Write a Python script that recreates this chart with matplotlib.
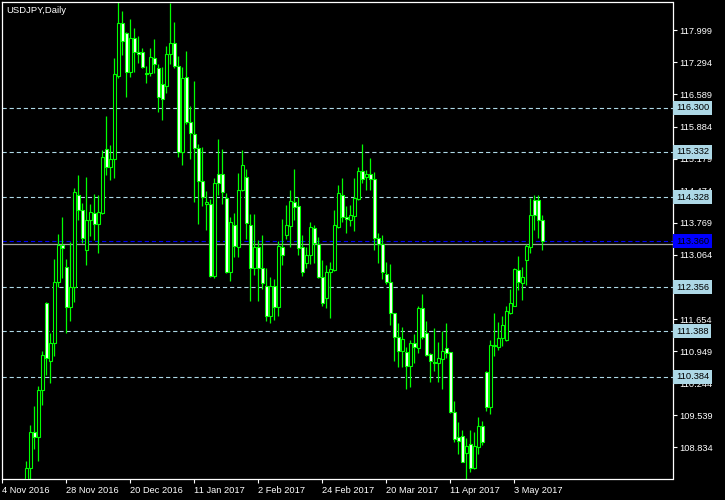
import matplotlib
matplotlib.use("Agg")
import matplotlib.pyplot as plt

plt.rcParams['font.family'] = ['Liberation Sans', 'DejaVu Sans']

# USDJPY daily bars, 4 Nov 2016 .. 12 May 2017 (one entry per weekday)
opens = [103.10, 103.10, 104.40, 105.10, 105.70, 106.80, 106.60, 108.39, 109.16, 109.05,
         110.09, 112.00, 110.72, 111.12, 112.47, 113.27, 112.79, 111.91, 112.36, 114.39,
         114.04, 113.18, 113.82, 113.98, 113.74, 113.99, 115.38, 115.00, 115.16, 117.00,
         118.17, 117.95, 117.09, 117.82, 117.53, 117.52, 117.06, 117.05, 117.38, 117.16,
         116.81, 116.78, 117.47, 117.71, 117.21, 115.32, 116.98, 115.99, 115.73, 115.41,
         114.69, 114.18, 114.18, 112.61, 114.83, 114.83, 114.32, 112.68, 113.73, 113.23,
         114.50, 114.77, 113.73, 112.77, 113.23, 112.77, 112.37, 111.72, 112.37, 111.91,
         113.23, 113.50, 113.70, 114.22, 114.14, 113.23, 112.88, 113.06, 113.65, 113.30,
         112.57, 112.11, 112.68, 112.72, 113.68, 114.39, 113.89, 113.84, 113.92, 114.29,
         114.91, 114.77, 114.83, 114.72, 113.44, 113.30, 112.64, 112.47, 111.78, 111.25,
         110.96, 110.92, 110.63, 111.12, 111.01, 111.89, 111.34, 110.89, 110.70, 110.68,
         110.77, 111.01, 110.92, 109.60, 109.07, 109.09, 108.72, 108.90, 108.39, 108.83,
         109.30, 110.50, 109.73, 111.06, 111.03, 111.23, 111.19, 111.79, 111.95, 112.73,
         112.44, 112.94, 113.24, 114.27, 114.27, 113.84]
highs = [103.50, 104.50, 105.50, 105.90, 106.90, 106.90, 108.53, 109.32, 109.74, 110.18,
         110.95, 112.02, 111.34, 112.97, 113.52, 113.89, 112.97, 113.34, 114.53, 114.82,
         114.20, 114.77, 114.18, 114.40, 114.38, 115.37, 116.12, 115.48, 117.38, 118.66,
         118.42, 117.96, 118.25, 118.06, 117.87, 117.60, 117.21, 117.60, 117.80, 117.26,
         117.19, 117.65, 118.60, 118.18, 117.43, 117.19, 117.54, 116.34, 116.89, 115.50,
         115.44, 114.47, 114.29, 114.75, 115.62, 115.38, 114.42, 113.89, 113.98, 114.86,
         115.37, 114.95, 113.96, 113.96, 113.38, 113.49, 112.78, 112.57, 112.53, 113.37,
         113.85, 114.16, 114.49, 114.95, 114.33, 113.50, 113.23, 113.78, 113.72, 113.45,
         112.95, 112.84, 112.90, 114.05, 114.60, 114.75, 114.14, 114.16, 114.75, 114.99,
         115.50, 114.93, 115.19, 114.89, 113.54, 113.50, 112.90, 112.86, 111.78, 111.56,
         111.47, 111.04, 111.19, 111.32, 111.94, 112.20, 111.60, 110.91, 111.45, 111.14,
         111.38, 111.56, 110.92, 109.85, 109.38, 109.22, 109.03, 109.21, 109.18, 109.49,
         109.41, 110.51, 111.19, 111.78, 111.58, 111.73, 111.93, 112.31, 112.78, 113.04,
         112.79, 113.30, 114.32, 114.38, 114.38, 113.95]
lows = [102.90, 103.00, 104.20, 101.20, 105.20, 106.10, 106.30, 107.90, 108.79, 108.54,
        109.76, 110.42, 110.25, 110.83, 112.35, 112.55, 111.34, 111.60, 112.03, 113.82,
        113.32, 112.84, 113.48, 113.40, 113.11, 113.97, 114.82, 114.71, 114.75, 116.95,
        117.46, 116.54, 116.98, 117.09, 117.27, 117.16, 116.85, 116.99, 117.05, 116.21,
        116.03, 116.63, 117.25, 117.16, 115.21, 115.04, 115.94, 115.16, 114.23, 113.74,
        114.14, 113.60, 112.57, 112.56, 114.38, 114.18, 112.67, 112.50, 113.02, 113.02,
        114.47, 113.41, 112.06, 112.62, 112.04, 112.31, 111.60, 111.57, 111.63, 111.72,
        112.84, 113.41, 113.24, 113.83, 113.06, 112.60, 112.78, 112.86, 112.89, 112.55,
        111.93, 111.90, 111.67, 112.70, 113.66, 113.79, 113.55, 113.70, 113.59, 114.27,
        114.65, 114.49, 114.49, 113.16, 112.88, 112.53, 112.42, 111.52, 110.72, 110.61,
        110.61, 110.11, 110.17, 110.69, 110.91, 111.21, 110.83, 110.26, 110.52, 110.28,
        110.11, 110.79, 109.58, 108.94, 108.69, 108.52, 108.14, 108.30, 108.36, 108.69,
        108.89, 109.64, 109.57, 110.85, 110.97, 111.05, 111.18, 111.76, 111.94, 112.29,
        112.07, 112.40, 113.11, 113.61, 113.44, 113.17]
closes = [103.10, 104.40, 105.10, 105.70, 106.80, 106.60, 108.39, 109.16, 109.05, 110.09,
          110.86, 110.79, 111.12, 112.46, 113.29, 113.21, 111.91, 112.36, 114.44, 114.04,
          113.43, 113.84, 114.00, 113.74, 114.01, 115.21, 115.00, 115.16, 117.04, 118.15,
          117.77, 117.08, 117.84, 117.53, 117.48, 117.20, 117.03, 117.41, 117.26, 116.54,
          116.50, 117.47, 117.73, 117.21, 115.33, 116.94, 115.99, 115.75, 115.41, 114.69,
          114.33, 114.23, 112.61, 114.64, 114.64, 114.45, 112.68, 113.78, 113.26, 114.50,
          115.04, 113.76, 112.78, 113.23, 112.77, 112.44, 111.72, 112.37, 111.91, 113.26,
          113.05, 113.72, 114.25, 114.12, 113.21, 112.69, 113.05, 113.67, 113.32, 112.58,
          112.00, 112.68, 112.75, 113.71, 114.42, 113.89, 113.85, 113.95, 114.31, 114.91,
          114.72, 114.84, 114.73, 113.44, 113.30, 112.69, 112.47, 111.78, 111.25, 110.96,
          111.21, 110.63, 111.12, 111.03, 111.89, 111.25, 110.86, 110.72, 110.68, 110.79,
          110.96, 110.91, 109.60, 109.01, 108.98, 108.52, 108.87, 108.39, 108.86, 109.30,
          108.96, 109.73, 111.08, 111.08, 111.23, 111.52, 111.82, 112.00, 112.75, 112.46,
          112.58, 113.26, 113.95, 113.95, 113.84, 113.36]

date_labels = ['4 Nov 2016', '28 Nov 2016', '20 Dec 2016', '11 Jan 2017', '2 Feb 2017',
               '24 Feb 2017', '20 Mar 2017', '11 Apr 2017', '3 May 2017']
price_ticks = [117.999, 117.294, 116.589, 115.884, 115.179, 114.474, 113.769, 113.064,
               112.359, 111.654, 110.949, 110.244, 109.539, 108.834]
levels = [116.300, 115.332, 114.328, 112.356, 111.388, 110.384]
current_price = 113.360
bid_line = 113.30

GREEN = '#00ff00'
LEVEL = '#add8e6'

fig = plt.figure(figsize=(7.25, 5.0), dpi=100, facecolor='black')
ax = fig.add_axes([2 / 725, 20.7 / 500, 670.5 / 725, 477.3 / 500])
ax.set_facecolor('black')

xs = list(range(len(opens)))

# wicks then bodies
ax.vlines(xs, lows, highs, colors=GREEN, linewidth=0.9, zorder=2)
bottoms = [min(o, c) for o, c in zip(opens, closes)]
heights = [max(abs(c - o), 0.005) for o, c in zip(opens, closes)]
fills = ['white' if c < o else 'black' for o, c in zip(opens, closes)]
ax.bar(xs, heights, bottom=bottoms, width=0.6, color=fills, edgecolor=GREEN,
       linewidth=0.8, zorder=3)

# horizontal levels
for lv in levels:
    ax.axhline(lv, color=LEVEL, linewidth=0.8, dashes=(3.8, 2.6), zorder=1)
    ax.annotate(f"{lv:.3f}", xy=(1, lv), xycoords=ax.get_yaxis_transform(),
                xytext=(3.5, 0), textcoords='offset pixels', va='center', ha='left',
                fontsize=6.7, color='black', annotation_clip=False, zorder=6,
                bbox=dict(boxstyle='square,pad=0.28', fc=LEVEL, ec='none'))

ax.axhline(bid_line, color='#a0a0a0', linewidth=0.9, zorder=1)
ax.axhline(current_price, color='#0000ff', linewidth=0.8, dashes=(3.8, 2.6), zorder=1)
ax.annotate(f"{current_price:.3f}", xy=(1, current_price), xycoords=ax.get_yaxis_transform(),
            xytext=(3.5, 0), textcoords='offset pixels', va='center', ha='left',
            fontsize=6.7, color='black', annotation_clip=False, zorder=6,
            bbox=dict(boxstyle='square,pad=0.28', fc='#0000ff', ec='none'))

ax.set_xlim(-0.125, 167.5)
ax.set_ylim(108.131, 118.621)

ax.set_xticks([16 * k for k in range(len(date_labels))])
ax.set_xticklabels(date_labels)
for lbl in ax.get_xticklabels():
    lbl.set_horizontalalignment('left')

# the 112.359 grid label sits fully under the 112.356 level box, so leave it blank
ax.yaxis.tick_right()
ax.set_yticks(price_ticks)
ax.set_yticklabels(['' if abs(v - 112.359) < 1e-6 else f"{v:.3f}" for v in price_ticks])

ax.tick_params(axis='both', colors='white', labelcolor='white', labelsize=6.7,
               length=3, width=0.8, direction='out')
ax.tick_params(axis='x', pad=1.5)
ax.tick_params(axis='y', pad=1.5)

for sp in ax.spines.values():
    sp.set_color('white')
    sp.set_linewidth(0.9)

ax.text(0.007, 0.991, 'USDJPY,Daily', transform=ax.transAxes, va='top', ha='left',
        color='white', fontsize=6.8, zorder=7)

plt.savefig('out.png', dpi=100, facecolor='black')
